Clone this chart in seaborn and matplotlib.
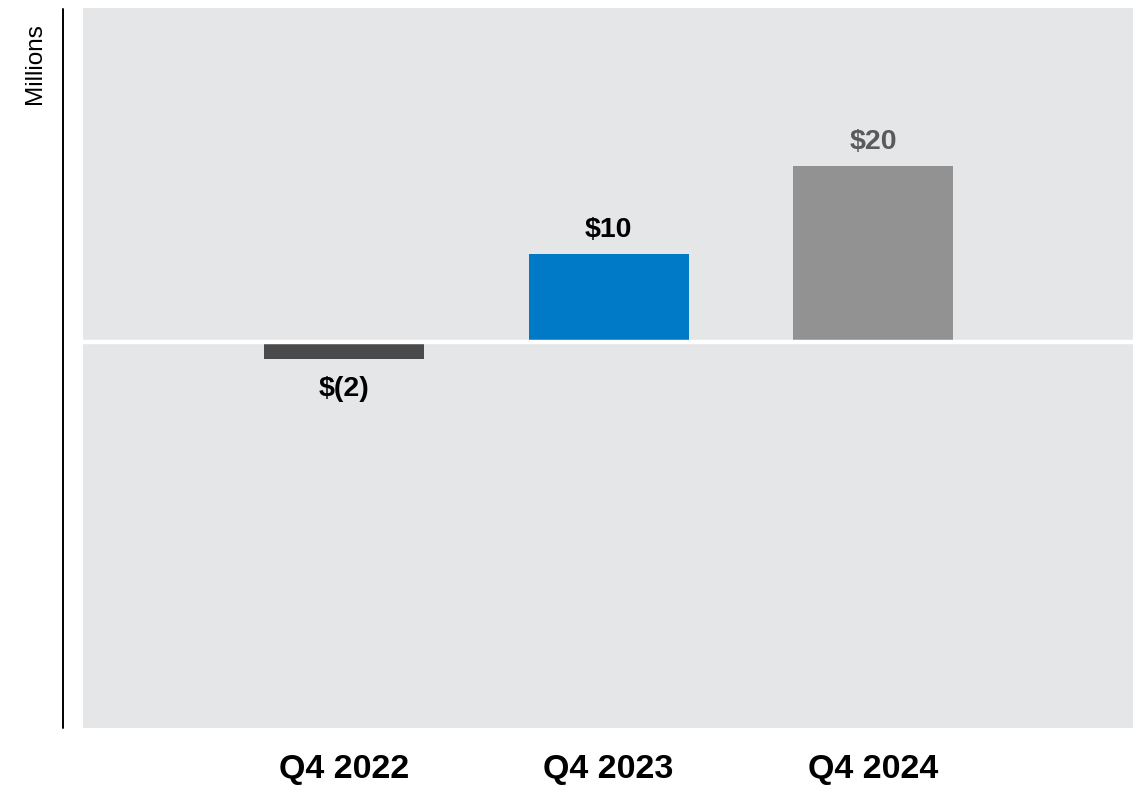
import matplotlib
matplotlib.use("Agg")
import matplotlib.pyplot as plt
from matplotlib.lines import Line2D
import seaborn as sns
import pandas as pd

# Quarterly results, in millions of dollars
quarters = ["Q4 2022", "Q4 2023", "Q4 2024"]
values = [-2, 10, 20]
value_labels = ["$(2)", "$10", "$20"]
bar_colors = ["#4a4a4a", "#0079c6", "#929292"]
label_colors = ["#000000", "#000000", "#5a5a5a"]

sns.set_theme(style="white")
plt.rcParams["font.family"] = ["Liberation Sans", "DejaVu Sans"]

df = pd.DataFrame({"quarter": quarters, "value": values})

fig = plt.figure(figsize=(11.35, 7.87), dpi=100)
W, H = 1135, 787
ax = fig.add_axes([83 / W, (H - 728) / H, (1133 - 83) / W, (728 - 8) / H])
ax.set_facecolor("#e5e6e8")

sns.barplot(data=df, x="quarter", y="value", hue="quarter",
            palette=bar_colors, width=0.605, legend=False, ax=ax,
            saturation=1, linewidth=0)

ax.set_xlim(-0.987, 2.983)
ax.set_ylim(-43.9, 37.95)

# white baseline at zero
ax.axhline(0, color="white", lw=3.2, zorder=3)

for i, (v, lab, c) in enumerate(zip(values, value_labels, label_colors)):
    off = 17.5 if v >= 0 else -21
    ax.annotate(lab, (i, v), xytext=(0, off), textcoords="offset points",
                ha="center", va="center", fontsize=20.5, fontweight="bold",
                color=c)

for s in ax.spines.values():
    s.set_visible(False)
ax.set_yticks([])
ax.set_xlabel("")
ax.set_ylabel("")
ax.tick_params(axis="x", length=0, pad=19)
for t in ax.get_xticklabels():
    t.set_fontsize(24.5)
    t.set_fontweight("bold")
    t.set_color("black")

# left axis rule and unit label
fig.add_artist(Line2D([62.5 / W, 62.5 / W], [(H - 728) / H, (H - 9) / H],
                      color="black", lw=1.4))
fig.text(35 / W, (H - 64) / H, "Millions", rotation=90, ha="center",
         va="center", fontsize=17.5, color="black")

fig.savefig("out.png", dpi=100)
